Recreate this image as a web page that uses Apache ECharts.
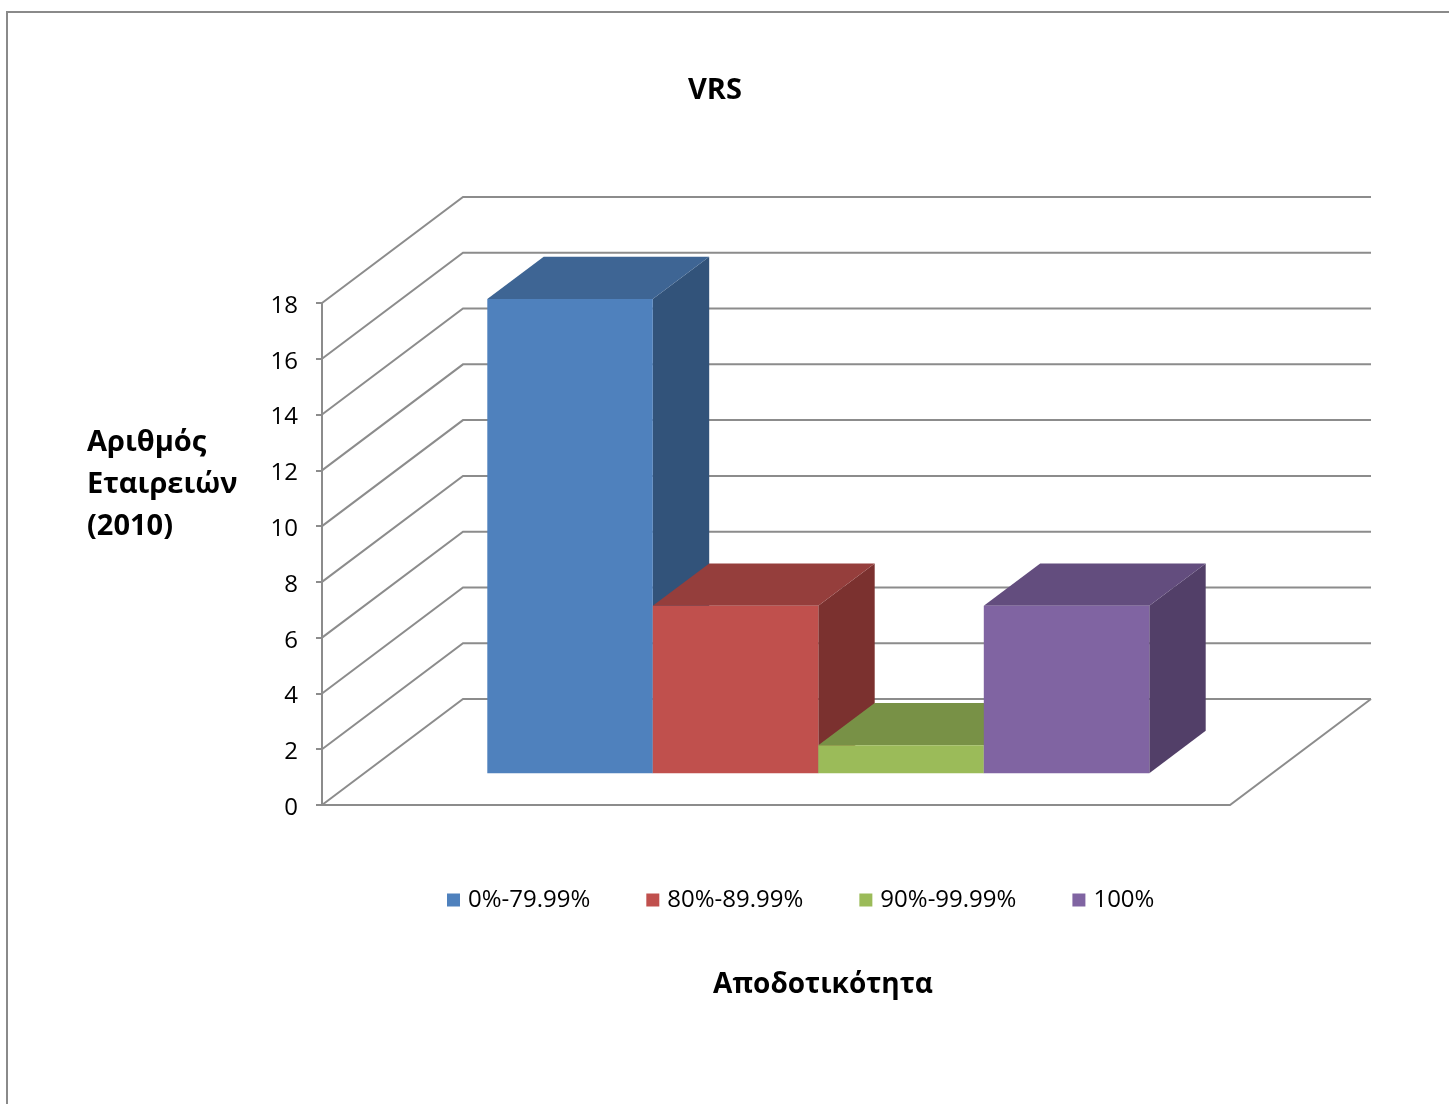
<!DOCTYPE html>
<html>
<head>
<meta charset="utf-8">
<title>VRS</title>
<script src="https://cdn.jsdelivr.net/npm/echarts@6/dist/echarts.min.js"></script>
<style>
  html, body { margin: 0; padding: 0; background: #ffffff; }
  #chart { width: 1449px; height: 1104px; }
</style>
</head>
<body>
<div id="chart"></div>
<script>
// Efficiency classes and number of companies in each (2010)
const categories = ['0%-79.99%', '80%-89.99%', '90%-99.99%', '100%'];
const companies = [17, 6, 1, 6];
const yTicks = [0, 2, 4, 6, 8, 10, 12, 14, 16, 18];

// Face shading of each box: front, top, right side
const frontColors = ['#4F81BD', '#C0504D', '#9BBB59', '#8064A2'];
const topColors = ['#3E6594', '#953E3C', '#789146', '#634D7E'];
const sideColors = ['#32537A', '#7B312F', '#62773A', '#523F68'];

// Oblique projection of the floor depth (px) and layout of the box inside it
const DEPTH = [141, -106];
const PAD = 123;            // floor overhang on both sides of the bar band
const BAR_FRONT = 0.3;      // box front at 30% of the depth
const BAR_BACK = 0.7;       // box back at 70% of the depth
const LINE = '#8c8c8c';
const FONT = '"Open Sans", "Noto Sans", sans-serif';

// Walls and floor: one gridline per tick along the side wall and back wall,
// plus the tick value beside the front axis
function renderFrame(params, api) {
  const cs = params.coordSys;
  const value = api.value(1);
  const y = api.coord([0, value])[1];
  const x0 = cs.x - PAD;
  const x1 = cs.x + cs.width + PAD;
  const [dx, dy] = DEPTH;
  const children = [{
    type: 'polyline',
    shape: { points: [[x0, y], [x0 + dx, y + dy], [x1 + dx, y + dy]] },
    style: { stroke: LINE, lineWidth: 2, fill: null }
  }, {
    type: 'text',
    x: x0 - 24,
    y: y + 3,
    style: { text: String(value), font: '24px ' + FONT, fill: '#000000',
      textAlign: 'right', textVerticalAlign: 'middle' }
  }];
  if (value === 0) {
    children.push({
      type: 'polyline',
      shape: { points: [[x0, y], [x1, y], [x1 + dx, y + dy]] },
      style: { stroke: LINE, lineWidth: 2, fill: null }
    });
  }
  return { type: 'group', children };
}

// One box per class: front face, top face and right face
function renderBox(params, api) {
  const i = api.value(0);
  const v = api.value(1);
  const topPt = api.coord([i, v]);
  const basePt = api.coord([i, 0]);
  const w = api.size([1, 0])[0];
  const fx = DEPTH[0] * BAR_FRONT, fy = DEPTH[1] * BAR_FRONT;
  const bx = DEPTH[0] * (BAR_BACK - BAR_FRONT), by = DEPTH[1] * (BAR_BACK - BAR_FRONT);
  const L = topPt[0] - w / 2 + fx;
  const R = topPt[0] + w / 2 + fx;
  const T = topPt[1] + fy;
  const B = basePt[1] + fy;
  return {
    type: 'group',
    children: [
      { type: 'polygon', shape: { points: [[R, T], [R + bx, T + by], [R + bx, B + by], [R, B]] },
        style: { fill: sideColors[i] } },
      { type: 'polygon', shape: { points: [[L, T], [R, T], [R + bx, T + by], [L + bx, T + by]] },
        style: { fill: topColors[i] } },
      { type: 'rect', shape: { x: L, y: T, width: R - L, height: B - T },
        style: { fill: frontColors[i] } }
    ]
  };
}

const series = [{
  type: 'custom',
  name: 'frame',
  silent: true,
  z: 1,
  data: yTicks.map(t => [0, t]),
  renderItem: renderFrame
}].concat(categories.map((name, i) => ({
  type: 'custom',
  name: name,
  z: 3 + i,
  color: frontColors[i],
  itemStyle: { color: frontColors[i] },
  data: [[i, companies[i]]],
  renderItem: renderBox
})));

const chart = echarts.init(document.getElementById('chart'), null, { renderer: 'canvas' });
chart.setOption({
  animation: false,
  backgroundColor: '#ffffff',
  grid: { left: 445, right: 342, top: 303, bottom: 299, containLabel: false },
  xAxis: {
    type: 'category',
    data: categories,
    axisLine: { show: false },
    axisTick: { show: false },
    axisLabel: { show: false },
    splitLine: { show: false }
  },
  yAxis: {
    type: 'value',
    min: 0,
    max: 18,
    interval: 2,
    offset: PAD,
    axisLine: { show: true, lineStyle: { color: LINE, width: 2 } },
    axisTick: { show: true, length: 6, lineStyle: { color: LINE, width: 2 } },
    axisLabel: { show: false },
    splitLine: { show: false }
  },
  legend: {
    data: categories,
    left: 442,
    top: 883,
    icon: 'rect',
    itemWidth: 13,
    itemHeight: 13,
    itemGap: 56,
    textStyle: { fontFamily: FONT, fontSize: 24, color: '#000000', padding: [0, 0, 0, 3] }
  },
  graphic: [
    { type: 'rect', silent: true, z: 0,
      shape: { x: 7, y: 12, width: 1500, height: 1200 },
      style: { fill: null, stroke: '#8a8a8a', lineWidth: 2 } },
    { type: 'text', x: 715, y: 91,
      style: { text: 'VRS', font: 'bold 29px ' + FONT, fill: '#000000',
        textAlign: 'center', textVerticalAlign: 'middle' } },
    { type: 'text', x: 87, y: 485,
      style: { text: 'Αριθμός\nΕταιρειών\n(2010)', font: 'bold 29px ' + FONT, lineHeight: 42,
        fill: '#000000', textAlign: 'left', textVerticalAlign: 'middle' } },
    { type: 'text', x: 823, y: 985,
      style: { text: 'Αποδοτικότητα', font: 'bold 28px ' + FONT, fill: '#000000',
        textAlign: 'center', textVerticalAlign: 'middle' } }
  ],
  series: series
});
</script>
</body>
</html>
